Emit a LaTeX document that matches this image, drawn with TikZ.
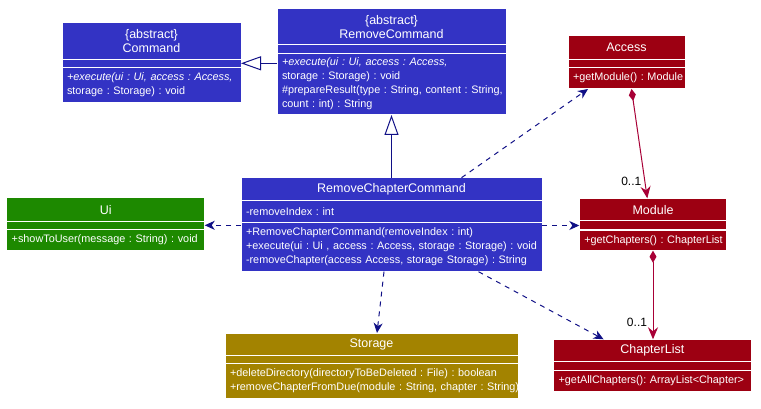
\documentclass[tikz,border=0pt]{standalone}
\usepackage{fontspec}
\setmainfont{Liberation Sans}
\usetikzlibrary{arrows.meta, positioning, calc}
\frenchspacing
\definecolor{cblue}{HTML}{3333C4}
\definecolor{cred}{HTML}{9D0012}
\definecolor{cgreen}{HTML}{1D8900}
\definecolor{cgold}{HTML}{A38300}
\definecolor{cnavy}{HTML}{101086}
\definecolor{cline}{HTML}{A80036}
\tikzset{
  every picture/.style={x=1pt, y=-1pt},
  head/.style={fill=#1, draw=white, line width=1pt, text=white, outer sep=0pt, inner sep=0pt, anchor=north west, align=center, font=\fontsize{12.5}{14.4}\selectfont},
  part/.style={fill=#1, draw=white, line width=1pt, text=white, outer sep=0pt, inner xsep=5pt, inner ysep=0pt, align=left, font=\fontsize{10.85}{14}\selectfont},
  uses/.style={-{Stealth[length=10pt, width=9pt, inset=3pt]}, draw=cnavy, line width=1pt, dash pattern=on 5pt off 5pt},
  inherit/.style={-{Triangle[open, length=20pt, width=14pt]}, draw=cnavy, line width=1pt},
  comp/.style={{Diamond[length=12pt, width=7pt]}-{Stealth[length=12pt, width=10pt, inset=4pt]}, draw=cline, line width=1pt},
  mult/.style={font=\fontsize{12}{14}\selectfont, text=black, inner sep=0pt, xshift=-16pt, yshift=16.6pt},
}

\begin{document}
\begin{tikzpicture}
  \useasboundingbox (0,0) rectangle (761,409);
  % logic classes
  \node[head=cblue, minimum width=179pt, minimum height=36.3pt] (cmdH) at (62,23) {\{abstract\}\\Command};
  \node[part=cblue, below=0pt of cmdH, text width=169pt, minimum height=8pt] (cmdA) {};
  \node[part=cblue, below=0pt of cmdA, text width=169pt, minimum height=35.4pt] (cmdM) {\mbox{\textit{+execute(ui : Ui, access : Access,}}\\\mbox{storage : Storage) : void}};

  \node[head=cblue, minimum width=229pt, minimum height=36pt] (rcmH) at (277,9) {\{abstract\}\\RemoveCommand};
  \node[part=cblue, below=0pt of rcmH, text width=219pt, minimum height=8.3pt] (rcmA) {};
  \node[part=cblue, below=0pt of rcmA, text width=219pt, minimum height=61.7pt] (rcmM) {\mbox{\textit{+execute(ui : Ui, access : Access,}}\\\mbox{storage : Storage) : void}\\\mbox{\#prepareResult(type : String, content : String,}\\\mbox{count : int) : String}};

  \node[head=cblue, minimum width=301pt, minimum height=23pt] (rccH) at (241,177.7) {RemoveChapterCommand};
  \node[part=cblue, below=0pt of rccH, text width=291pt, minimum height=21.6pt] (rccA) {-removeIndex : int};
  \node[part=cblue, below=0pt of rccA, text width=291pt, minimum height=49.4pt] (rccM) {\mbox{+RemoveChapterCommand(removeIndex : int)}\\\mbox{+execute(ui : Ui , access : Access, storage : Storage) : void}\\\mbox{-removeChapter(access Access, storage Storage) : String}};

  % ui
  \node[head=cgreen, minimum width=198pt, minimum height=23.3pt] (uiH) at (6.7,198) {Ui};
  \node[part=cgreen, below=0pt of uiH, text width=188pt, minimum height=8pt] (uiA) {};
  \node[part=cgreen, below=0pt of uiA, text width=188pt, minimum height=21.4pt] (uiM) {\mbox{+showToUser(message : String) : void}};

  % model
  \node[head=cred, minimum width=117pt, minimum height=23.3pt] (accH) at (568,36) {Access};
  \node[part=cred, below=0pt of accH, text width=107pt, minimum height=8pt] (accA) {};
  \node[part=cred, below=0pt of accA, text width=107pt, minimum height=21.7pt] (accM) {\mbox{+getModule() : Module}};

  \node[head=cred, minimum width=147.4pt, minimum height=22.7pt] (modH) at (579.3,198.3) {Module};
  \node[part=cred, below=0pt of modH, text width=137.4pt, minimum height=9pt] (modA) {};
  \node[part=cred, below=0pt of modA, text width=137.4pt, minimum height=20.7pt] (modM) {\mbox{+getChapters() : ChapterList}};

  \node[head=cred, minimum width=197.4pt, minimum height=22.4pt] (chlH) at (553.6,339.3) {ChapterList};
  \node[part=cred, below=0pt of chlH, text width=187.4pt, minimum height=8.3pt] (chlA) {};
  \node[part=cred, below=0pt of chlA, text width=187.4pt, minimum height=21.7pt] (chlM) {\mbox{+getAllChapters(): ArrayList<Chapter>}};

  % storage
  \node[head=cgold, minimum width=293pt, minimum height=22pt] (stoH) at (225,333) {Storage};
  \node[part=cgold, below=0pt of stoH, text width=283pt, minimum height=8.3pt] (stoA) {};
  \node[part=cgold, below=0pt of stoA, text width=283pt, minimum height=35pt] (stoM) {\mbox{+deleteDirectory(directoryToBeDeleted : File) : boolean}\\\mbox{+removeChapterFromDue(module : String, chapter : String)}};

  % connectors
  \draw[inherit] (cmdA.east -| rcmM.west) -- (cmdA.east);
  \draw[inherit] (rccH.north) -- (rcmM.south);
  \draw[uses] ([xshift=70pt]rccH.north) -- ([xshift=20pt]accM.south west);
  \draw[uses] (rccM.west |- uiA.east) -- (uiA.east);
  \draw[uses] (rccM.east |- modA.west) -- (modA.west);
  \draw[uses] ([xshift=-7.5pt]rccM.south) -- ([xshift=5.5pt]stoH.north);
  \draw[uses] ([xshift=87pt]rccM.south) -- ([xshift=50pt]chlH.north west);
  \draw[comp] ([xshift=5pt]accM.south) -- ([xshift=-5.7pt]modH.north) node[mult, pos=1] (accMult) {0..1};
  \draw[comp] (modM.south) -- (modM.south |- chlH.north) node[mult, pos=1] (modMult) {0..1};
\end{tikzpicture}
\end{document}
